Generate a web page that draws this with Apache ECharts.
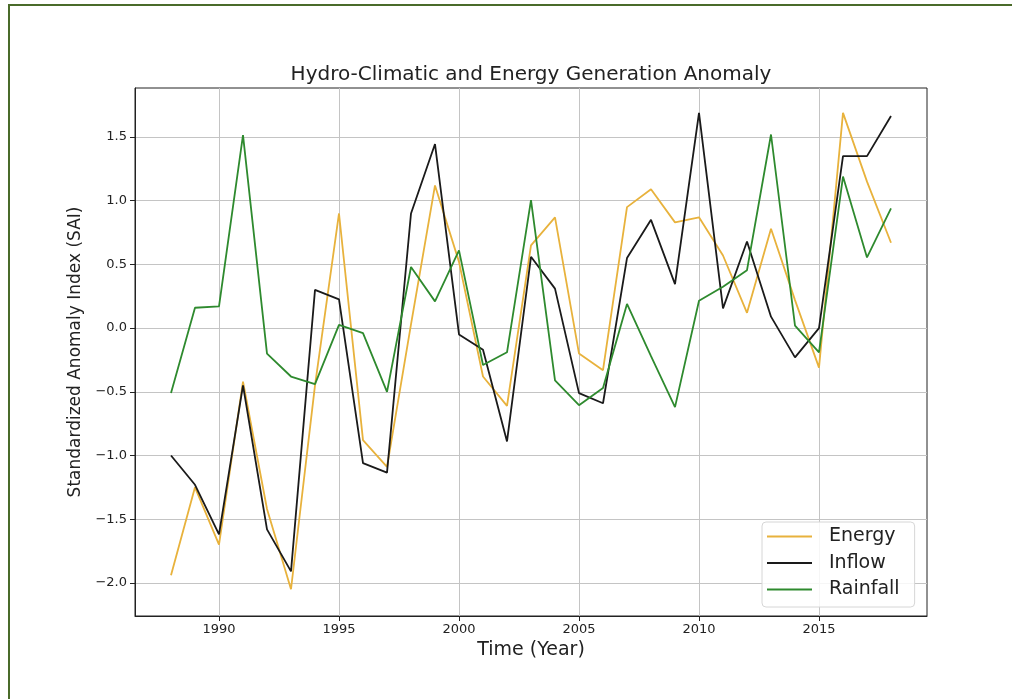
<!DOCTYPE html>
<html>
<head>
<meta charset="utf-8">
<title>Hydro-Climatic and Energy Generation Anomaly</title>
<script src="https://cdn.jsdelivr.net/npm/echarts@6/dist/echarts.min.js"></script>
<style>
  html, body { margin: 0; padding: 0; background: #fff; }
  #chart { width: 1012px; height: 699px; }
  .frame {
    position: absolute; left: 8px; top: 4px; right: 0; bottom: 0;
    border-top: 2px solid #4a6b2a; border-left: 2px solid #4a6b2a;
    pointer-events: none;
  }
</style>
</head>
<body>
<div id="chart"></div>
<div class="frame"></div>
<script>
// values
const years = [1988, 1989, 1990, 1991, 1992, 1993, 1994, 1995, 1996, 1997,
  1998, 1999, 2000, 2001, 2002, 2003, 2004, 2005, 2006, 2007,
  2008, 2009, 2010, 2011, 2012, 2013, 2014, 2015, 2016, 2017, 2018]

const energy = [-1.94, -1.25, -1.70, -0.42, -1.42, -2.05, -0.45, 0.90, -0.88, -1.09,
  0.03, 1.12, 0.52, -0.38, -0.61, 0.65, 0.87, -0.20, -0.33, 0.95,
  1.09, 0.83, 0.87, 0.57, 0.12, 0.78, 0.22, -0.31, 1.69, 1.15, 0.67]

const inflow = [-1.00, -1.23, -1.62, -0.45, -1.58, -1.91, 0.30, 0.225, -1.06, -1.135,
  0.90, 1.445, -0.05, -0.17, -0.89, 0.56, 0.31, -0.51, -0.59, 0.55,
  0.85, 0.345, 1.69, 0.155, 0.68, 0.09, -0.23, 0.00, 1.35, 1.35, 1.665]

const rainfall = [-0.51, 0.16, 0.17, 1.515, -0.20, -0.38, -0.44, 0.025, -0.04, -0.50,
  0.48, 0.21, 0.61, -0.29, -0.19, 1.005, -0.41, -0.605, -0.47, 0.19,
  -0.22, -0.62, 0.215, 0.325, 0.455, 1.52, 0.02, -0.19, 1.19, 0.555, 0.94]

const xTicks = [1990, 1995, 2000, 2005, 2010, 2015]
const yTicks = [-2.0, -1.5, -1.0, -0.5, 0.0, 0.5, 1.0, 1.5]

const font = 'DejaVu Sans'
const chart = echarts.init(document.getElementById('chart'))

function line(name, values, color) {
  return {
    name,
    type: 'line',
    data: years.map((y, i) => [y, values[i]]),
    symbol: 'none',
    lineStyle: { color, width: 1.8 },
    itemStyle: { color },
    emphasis: { disabled: true },
  }
}

chart.setOption({
  animation: false,
  textStyle: { fontFamily: font },
  title: {
    text: 'Hydro-Climatic and Energy Generation Anomaly',
    left: 531,
    top: 65,
    textAlign: 'center',
    padding: 0,
    textStyle: { fontFamily: font, fontSize: 20, fontWeight: 'normal', color: '#222' },
  },
  grid: {
    left: 135, right: 85, top: 88, bottom: 83,
    show: true, borderColor: '#222', borderWidth: 1,
  },
  legend: {
    orient: 'vertical',
    left: 762,
    top: 522,
    padding: [5, 15, 8, 5],
    icon: 'rect',
    itemWidth: 45,
    itemHeight: 2,
    itemGap: 7.5,
    backgroundColor: 'rgba(255,255,255,0.85)',
    borderColor: '#d6d6d6',
    borderWidth: 1,
    borderRadius: 4,
    textStyle: { fontFamily: font, fontSize: 19, color: '#222', padding: [0, 0, 0, 12] },
  },
  xAxis: {
    type: 'value',
    min: 1986.5,
    max: 2019.5,
    name: 'Time (Year)',
    nameLocation: 'middle',
    nameGap: 21,
    nameTextStyle: { fontFamily: font, fontSize: 19, color: '#222' },
    axisLine: { onZero: false, lineStyle: { color: '#222' } },
    axisTick: { customValues: xTicks, length: 5, lineStyle: { color: '#222' } },
    axisLabel: { customValues: xTicks, margin: 7, fontSize: 13, color: '#222', formatter: (v) => String(v) },
    splitLine: { show: true, lineStyle: { color: '#c4c4c4', width: 1 } },
  },
  yAxis: {
    type: 'value',
    min: -2.26,
    max: 1.885,
    name: 'Standardized Anomaly Index (SAI)',
    nameLocation: 'middle',
    nameGap: 49,
    nameTextStyle: { fontFamily: font, fontSize: 17, color: '#222' },
    axisLine: { show: true, onZero: false, lineStyle: { color: '#222' } },
    axisTick: { show: true, customValues: yTicks, length: 5, lineStyle: { color: '#222' } },
    axisLabel: {
      customValues: yTicks, margin: 8, fontSize: 13, color: '#222',
      formatter: (v) => v.toFixed(1).replace('-', '\u2212'),
    },
    splitLine: { show: true, lineStyle: { color: '#c4c4c4', width: 1 } },
  },
  series: [
    line('Energy', energy, '#e8b23c'),
    line('Inflow', inflow, '#1a1a1a'),
    line('Rainfall', rainfall, '#2e8a2e'),
  ],
})
</script>
</body>
</html>
